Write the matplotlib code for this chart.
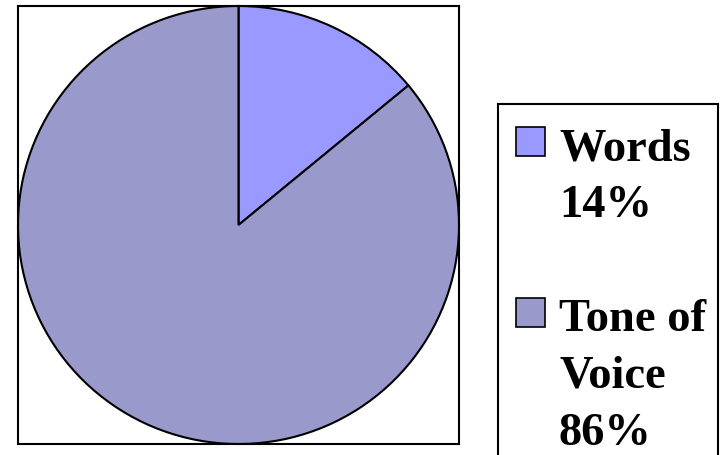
import matplotlib.pyplot as plt
from matplotlib.patches import Rectangle

labels = ["Words\n14%", "Tone of\nVoice\n86%"]
values = [14, 86]
colors = ["#9999FF", "#9999CC"]

W, H = 727, 455
fig = plt.figure(figsize=(W / 100, H / 100), dpi=100)

def fx(px):
    return px / W

def fy(py):
    return 1 - py / H

# pie axes, box drawn by the spines
ax = fig.add_axes([fx(18), fy(444), 441 / W, 438 / H])
ax.pie(values, colors=colors, startangle=90, counterclock=False,
       wedgeprops=dict(edgecolor="black", linewidth=1.5))
ax.set_aspect("auto")
ax.set_xlim(-1.0, 1.0)
ax.set_ylim(-1.0, 1.0)
ax.set_frame_on(True)
ax.set_xticks([])
ax.set_yticks([])
for s in ax.spines.values():
    s.set_color("black")
    s.set_linewidth(1.5)

# legend frame (runs off the bottom)
fig.patches.append(Rectangle((fx(498), -0.05), 220 / W, fy(104) + 0.05,
                             transform=fig.transFigure, fill=False,
                             edgecolor="black", linewidth=1.5))

# legend entries, one text per line so the baselines sit where wanted
line_h = 57
baseline = 160
for lab, col in zip(labels, colors):
    fig.patches.append(Rectangle((fx(516), fy(baseline - 4)), 29 / W, 29 / H,
                                 transform=fig.transFigure, facecolor=col,
                                 edgecolor="black", linewidth=1.2))
    for part in lab.split("\n"):
        fig.text(fx(559), fy(baseline), part, ha="left", va="baseline",
                 family="Liberation Serif", weight="bold", fontsize=33.5)
        baseline += line_h
    baseline += line_h

fig.savefig("out.png", dpi=100)
